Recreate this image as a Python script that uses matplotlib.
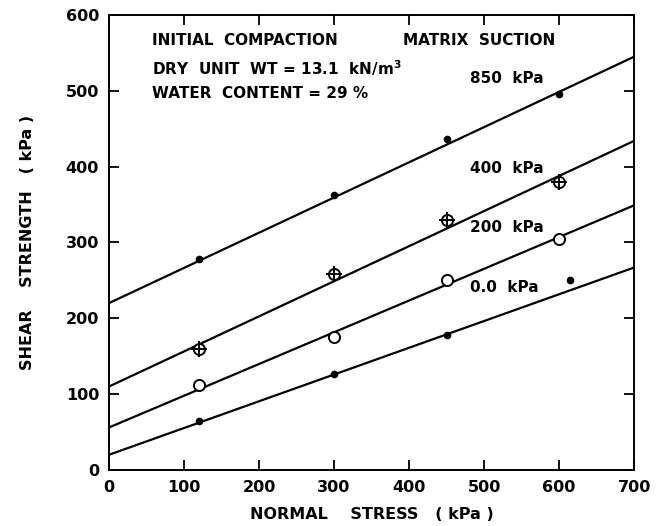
import numpy as np
import matplotlib.pyplot as plt

# normal stress of the test points (kPa)
stress = [120, 300, 450, 600]
stress_0 = [120, 300, 450, 615]

# measured shear strength for each matrix suction (kPa)
tau_850 = [278, 362, 436, 496]
tau_400 = [160, 258, 330, 380]
tau_200 = [112, 175, 250, 305]
tau_0 = [65, 127, 178, 250]

# fitted failure envelopes: intercept at 0 and value at 700 kPa
fit_x = [0, 700]
fit_850 = [220, 545]
fit_400 = [110, 434]
fit_200 = [56, 349]
fit_0 = [20, 267]

suction_labels = ['850  kPa', '400  kPa', '200  kPa', '0.0  kPa']
label_y = [516, 397, 320, 240]

plt.rcParams['font.family'] = 'DejaVu Sans'
plt.rcParams['font.weight'] = 'bold'
plt.rcParams['axes.labelweight'] = 'bold'

fig = plt.figure(figsize=(6.64, 5.26), dpi=100)
ax = fig.add_axes([0.164, 0.1065, 0.791, 0.865])

for fy in [fit_850, fit_400, fit_200, fit_0]:
    ax.plot(fit_x, fy, color='black', lw=1.6)

ax.plot(stress, tau_850, 'o', ms=4.5, color='black')
ax.plot(stress, tau_400, 'o', ms=8, mfc='white', mec='black', mew=1.4)
ax.plot(stress, tau_400, '+', ms=11, color='black', mew=1.4)
ax.plot(stress, tau_200, 'o', ms=8, mfc='white', mec='black', mew=1.4)
ax.plot(stress_0, tau_0, 'o', ms=4.5, color='black')

txt = dict(fontsize=11, color='black')
ax.text(57, 567, 'INITIAL  COMPACTION', va='center', **txt)
ax.text(392, 567, 'MATRIX  SUCTION', va='center', **txt)
ax.text(57, 530, 'DRY  UNIT  WT = 13.1  kN/m$^\\mathbf{3}$', va='center', **txt)
ax.text(57, 497, 'WATER  CONTENT = 29 %', va='center', **txt)
for lab, ly in zip(suction_labels, label_y):
    ax.text(481, ly, lab, va='center', **txt)

ax.set_xlim(0, 700)
ax.set_ylim(0, 600)
ax.set_xticks(np.arange(0, 701, 100))
ax.set_yticks(np.arange(0, 601, 100))
ax.tick_params(direction='in', top=True, right=True, length=7, width=1.3,
               labelsize=11.5, pad=7)
for s in ax.spines.values():
    s.set_linewidth(1.4)

ax.set_xlabel('NORMAL    STRESS   ( kPa )', fontsize=11.5, labelpad=9)
ax.set_ylabel('SHEAR    STRENGTH   ( kPa )', fontsize=11.5, labelpad=22)

fig.savefig('out.png', dpi=100)
